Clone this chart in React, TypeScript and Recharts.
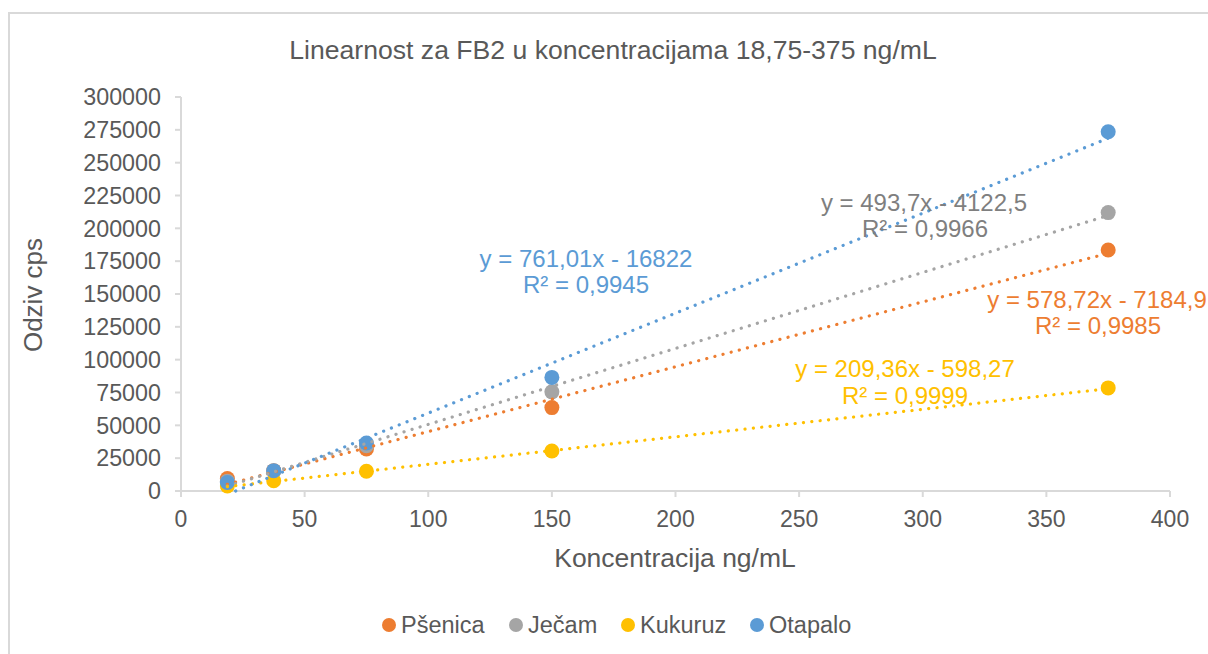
import { ScatterChart, Scatter, XAxis, YAxis } from "recharts"

const concentrations = [18.75, 37.5, 75, 150, 375]
const psenica = [9500, 15500, 32000, 63500, 183500]
const jecam = [7500, 15000, 34500, 75500, 212000]
const kukuruz = [3800, 7800, 15000, 30500, 78500]
const otapalo = [6500, 15500, 36500, 86500, 273500]

// trendline end points
const trendX = [18.75, 375]
const psenicaTrend = [5100, 181000]
const jecamTrend = [3700, 209800]
const kukuruzTrend = [3300, 77900]
const otapaloTrendX = [22.1, 375]
const otapaloTrend = [0, 268600]

const xTicks = [0, 50, 100, 150, 200, 250, 300, 350, 400]
const yTicks = [0, 25000, 50000, 75000, 100000, 125000, 150000, 175000, 200000, 225000, 250000, 275000, 300000]

const seriesNames = ["Pšenica", "Ječam", "Kukuruz", "Otapalo"]
const colors = ["#ED7D31", "#A5A5A5", "#FFC000", "#5B9BD5"]

const title = "Linearnost za FB2 u koncentracijama 18,75-375 ng/mL"
const xTitle = "Koncentracija ng/mL"
const yTitle = "Odziv cps"

const FONT = "'Liberation Sans', Arial, sans-serif"
const TEXT = "#595959"

const toPoints = (xs: number[], ys: number[]) => xs.map((x, i) => ({ x, y: ys[i] }))

const pointSets = [psenica, jecam, kukuruz, otapalo].map((ys) => toPoints(concentrations, ys))
const trendSets = [
  toPoints(trendX, psenicaTrend),
  toPoints(trendX, jecamTrend),
  toPoints(trendX, kukuruzTrend),
  toPoints(otapaloTrendX, otapaloTrend),
]

const dot = (color: string) => (p: any) => <circle cx={p.cx} cy={p.cy} r={7.5} fill={color} />

export default function App() {
  return (
    <div style={{ position: "absolute", left: 0, top: 0, width: 1208, height: 654, background: "#fff", overflow: "hidden" }}>
      <ScatterChart width={1208} height={654} margin={{ top: 97, right: 38, bottom: 133, left: 101 }}>
        <XAxis
          type="number"
          dataKey="x"
          domain={[0, 400]}
          ticks={xTicks}
          height={30}
          stroke="#d9d9d9"
          strokeWidth={2}
          tickSize={6}
          tickMargin={14}
          tick={{ fill: TEXT, fontSize: 23, fontFamily: FONT }}
        />
        <YAxis
          type="number"
          dataKey="y"
          domain={[0, 300000]}
          ticks={yTicks}
          width={80}
          stroke="#d9d9d9"
          strokeWidth={2}
          tickSize={6}
          tickMargin={14}
          tick={{ fill: TEXT, fontSize: 23.3, fontFamily: FONT }}
        />
        {pointSets.map((d, i) => (
          <Scatter key={seriesNames[i]} name={seriesNames[i]} data={d} fill={colors[i]} shape={dot(colors[i])} isAnimationActive={false} />
        ))}
        {trendSets.map((d, i) => (
          <Scatter
            key={"t" + i}
            data={d}
            shape={() => <g />}
            legendType="none"
            line={{ stroke: colors[i], strokeWidth: 3.2, strokeDasharray: "0.1 8.3", strokeLinecap: "round" }}
            isAnimationActive={false}
          />
        ))}
      </ScatterChart>
      <svg width={1208} height={654} style={{ position: "absolute", left: 0, top: 0, pointerEvents: "none" }} fontFamily={FONT}>
        <rect x={9} y={13} width={1230} height={680} fill="none" stroke="#d9d9d9" strokeWidth={2} />
        <text x={613} y={50} dy="0.35em" textAnchor="middle" fontSize={26.6} fill={TEXT}>{title}</text>
        <text x={675} y={558} dy="0.35em" textAnchor="middle" fontSize={26.5} fill={TEXT}>{xTitle}</text>
        <text x={33} y={295} dy="0.35em" textAnchor="middle" fontSize={26} fill={TEXT} transform="rotate(-90 33 295)">{yTitle}</text>

        <g fontSize={24} textAnchor="middle">
          <text x={586} y={259} dy="0.35em" fill="#5B9BD5">y = 761,01x - 16822</text>
          <text x={586} y={285} dy="0.35em" fill="#5B9BD5">R² = 0,9945</text>
          <text x={924} y={203} dy="0.35em" fill="#7F7F7F">y = 493,7x - 4122,5</text>
          <text x={925} y={229} dy="0.35em" fill="#7F7F7F">R² = 0,9966</text>
          <text x={1097} y={300} dy="0.35em" fill="#ED7D31">y = 578,72x - 7184,9</text>
          <text x={1098} y={326} dy="0.35em" fill="#ED7D31">R² = 0,9985</text>
          <text x={905} y={369} dy="0.35em" fill="#FFC000">y = 209,36x - 598,27</text>
          <text x={905} y={396} dy="0.35em" fill="#FFC000">R² = 0,9999</text>
        </g>

        <g fontSize={23.5} fill={TEXT}>
          {[389, 516, 628, 757].map((cx, i) => (
            <g key={seriesNames[i]}>
              <circle cx={cx} cy={625} r={7} fill={colors[i]} />
              <text x={cx + 12} y={625} dy="0.35em">{seriesNames[i]}</text>
            </g>
          ))}
        </g>
      </svg>
    </div>
  )
}
